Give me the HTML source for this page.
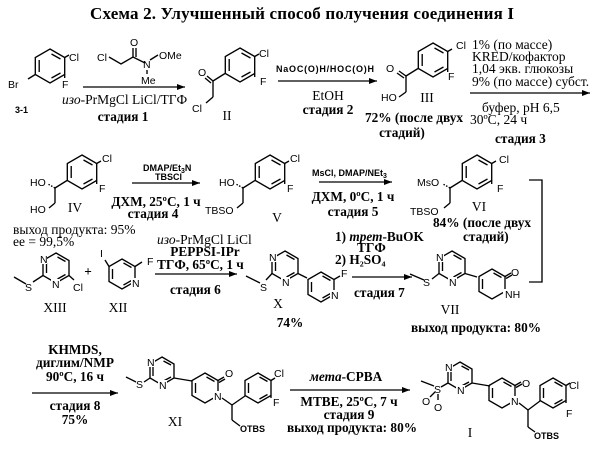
<!DOCTYPE html>
<html><head><meta charset="utf-8"><style>
html,body{margin:0;padding:0;background:#fff;}
svg{display:block;}
.a{font-family:"Liberation Sans",sans-serif;font-size:10.5px;fill:#000;}
.r{font-family:"Liberation Serif","Noto Serif CJK SC",serif;font-size:13.5px;fill:#000;}
.b{font-family:"Liberation Serif","Noto Serif CJK SC",serif;font-size:13.3px;font-weight:bold;fill:#000;}
.sb{font-family:"Liberation Sans",sans-serif;font-size:9px;font-weight:bold;fill:#000;}
line,polyline,polygon{stroke:#000;stroke-width:1.35;fill:none;}
</style></head><body>
<svg width="604" height="470" viewBox="0 0 604 470" xmlns="http://www.w3.org/2000/svg">
<defs><marker id="ar" markerWidth="8" markerHeight="6" refX="8" refY="3" orient="auto" markerUnits="userSpaceOnUse"><path d="M0,0 L8,3 L0,6 z" fill="#000"/></marker></defs>

<text class="b" x="302" y="19" text-anchor="middle" style="font-size:17px" textLength="424">Схема 2. Улучшенный способ получения соединения I</text>

<!-- 3-1 -->
<g transform="translate(50,66)">
<polygon points="0,-17 14.7,-8.5 14.7,8.5 0,17 -14.7,8.5 -14.7,-8.5"/>
<line x1="1.5" y1="-12" x2="10.5" y2="-7"/><line x1="10.5" y1="7" x2="1.5" y2="12"/><line x1="-10.8" y1="-6" x2="-10.8" y2="6"/>
<line x1="14.7" y1="-8.5" x2="19" y2="-11"/><line x1="14.7" y1="8.5" x2="14.7" y2="12"/><line x1="-14.7" y1="8.5" x2="-22" y2="13"/>
<text class="a" x="19" y="-5">Cl</text><text class="a" x="12" y="22">F</text><text class="a" x="-42" y="22">Br</text>
</g>
<text class="sb" x="15" y="113">3-1</text>
<!-- reagent -->
<text class="a" x="97" y="61">Cl</text>
<polyline points="109,57 121,64 133,57 145,63"/>
<line x1="133" y1="57" x2="133" y2="48"/><line x1="136" y1="57" x2="136" y2="48"/>
<text class="a" x="130" y="46">O</text><text class="a" x="143" y="68">N</text>
<line x1="150" y1="60" x2="158" y2="55"/><text class="a" x="159" y="59">OMe</text>
<line x1="147" y1="70" x2="147" y2="74"/><text class="a" x="141" y="84">Me</text>
<line x1="83" y1="87" x2="185" y2="87" marker-end="url(#ar)"/>
<text class="r" x="62" y="104"><tspan font-style="italic">изо</tspan>-PrMgCl LiCl/ТГФ</text>
<text class="b" x="123" y="121" text-anchor="middle">стадия 1</text>

<!-- II -->
<g transform="translate(240,65)">
<polygon points="0,-17 14.7,-8.5 14.7,8.5 0,17 -14.7,8.5 -14.7,-8.5"/>
<line x1="1.5" y1="-12" x2="10.5" y2="-7"/><line x1="10.5" y1="7" x2="1.5" y2="12"/><line x1="-10.8" y1="-6" x2="-10.8" y2="6"/>
<line x1="14.7" y1="-8.5" x2="19" y2="-11"/><line x1="14.7" y1="8.5" x2="14.7" y2="12"/>
<text class="a" x="19" y="-8">Cl</text><text class="a" x="20" y="20">F</text>
</g>
<line x1="225" y1="73.5" x2="213" y2="81"/><line x1="213" y1="81" x2="207" y2="76"/><line x1="211" y1="83" x2="205" y2="78"/>
<text class="a" x="198" y="76">O</text>
<line x1="213" y1="81" x2="213" y2="97"/><line x1="213" y1="97" x2="206" y2="103"/>
<text class="a" x="192" y="112">Cl</text>
<text class="r" x="227" y="120" text-anchor="middle">II</text>
<!-- stage 2 -->
<text class="sb" x="276" y="72" textLength="98">NaOC(O)H/HOC(O)H</text>
<line x1="278" y1="81" x2="377" y2="81" marker-end="url(#ar)"/>
<text class="r" x="328" y="100" text-anchor="middle">EtOH</text>
<text class="b" x="328" y="114" text-anchor="middle">стадия 2</text>

<!-- III -->
<g transform="translate(433,60)">
<polygon points="0,-17 14.7,-8.5 14.7,8.5 0,17 -14.7,8.5 -14.7,-8.5"/>
<line x1="1.5" y1="-12" x2="10.5" y2="-7"/><line x1="10.5" y1="7" x2="1.5" y2="12"/><line x1="-10.8" y1="-6" x2="-10.8" y2="6"/>
<line x1="14.7" y1="-8.5" x2="19" y2="-11"/><line x1="14.7" y1="8.5" x2="14.7" y2="12"/>
<text class="a" x="23" y="-11">Cl</text><text class="a" x="15" y="20">F</text>
</g>
<line x1="418" y1="68.5" x2="406" y2="76"/><line x1="406" y1="76" x2="399" y2="71"/><line x1="404" y1="78" x2="397" y2="73"/>
<text class="a" x="386" y="72">O</text>
<line x1="406" y1="76" x2="406" y2="92"/><line x1="406" y1="92" x2="399" y2="97"/>
<text class="a" x="381" y="101">HO</text>
<text class="r" x="427" y="102" text-anchor="middle">III</text>
<text class="b" x="365" y="122">72% (после двух</text>
<text class="b" x="402" y="137" text-anchor="middle">стадий)</text>
<!-- stage 3 -->
<text class="r" x="472" y="49">1% (по массе)</text>
<text class="r" x="472" y="61">KRED/кофактор</text>
<text class="r" x="472" y="73">1,04 экв. глюкозы</text>
<text class="r" x="472" y="86">9% (по массе) субст.</text>
<line x1="470" y1="93" x2="590" y2="93" marker-end="url(#ar)"/>
<text class="r" x="482" y="112">буфер, pH 6,5</text>
<text class="r" x="470" y="124">30ºC, 24 ч</text>
<text class="b" x="495" y="143">стадия 3</text>

<!-- IV -->
<g transform="translate(82,172)">
<polygon points="0,-17 14.7,-8.5 14.7,8.5 0,17 -14.7,8.5 -14.7,-8.5"/>
<line x1="1.5" y1="-12" x2="10.5" y2="-7"/><line x1="10.5" y1="7" x2="1.5" y2="12"/><line x1="-10.8" y1="-6" x2="-10.8" y2="6"/>
<line x1="14.7" y1="-8.5" x2="19" y2="-11"/><line x1="14.7" y1="8.5" x2="14.7" y2="12"/>
<text class="a" x="20" y="-10">Cl</text><text class="a" x="17" y="20">F</text>
</g>
<line x1="67" y1="180.5" x2="55" y2="188"/><line x1="55" y1="188" x2="48" y2="184" stroke-dasharray="1.5,1.5"/>
<line x1="55" y1="188" x2="55" y2="203"/><line x1="55" y1="203" x2="49" y2="208"/>
<text class="a" x="30" y="186">HO</text><text class="a" x="30" y="213">HO</text>
<text class="r" x="75" y="212" text-anchor="middle">IV</text>
<text class="r" x="13" y="234">выход продукта: 95%</text>
<text class="r" x="13" y="246">ee = 99,5%</text>
<!-- stage 4 -->
<text class="sb" x="143" y="171">DMAP/Et<tspan font-size="7" dy="2">3</tspan><tspan dy="-2">N</tspan></text>
<text class="sb" x="155" y="180">TBSCl</text>
<line x1="132" y1="183" x2="200" y2="183" marker-end="url(#ar)"/>
<text class="b" x="156" y="206" text-anchor="middle">ДХМ, 25ºC, 1 ч</text>
<text class="b" x="153" y="218" text-anchor="middle">стадия 4</text>

<!-- V -->
<g transform="translate(270,172)">
<polygon points="0,-17 14.7,-8.5 14.7,8.5 0,17 -14.7,8.5 -14.7,-8.5"/>
<line x1="1.5" y1="-12" x2="10.5" y2="-7"/><line x1="10.5" y1="7" x2="1.5" y2="12"/><line x1="-10.8" y1="-6" x2="-10.8" y2="6"/>
<line x1="14.7" y1="-8.5" x2="19" y2="-11"/><line x1="14.7" y1="8.5" x2="14.7" y2="12"/>
<text class="a" x="20" y="-10">Cl</text><text class="a" x="17" y="20">F</text>
</g>
<line x1="255" y1="180.5" x2="243" y2="188"/><line x1="243" y1="188" x2="236" y2="184" stroke-dasharray="1.5,1.5"/>
<line x1="243" y1="188" x2="243" y2="203"/><line x1="243" y1="203" x2="237" y2="208"/>
<text class="a" x="219" y="186">HO</text><text class="a" x="205" y="214">TBSO</text>
<text class="r" x="277" y="222" text-anchor="middle">V</text>
<!-- stage 5 -->
<text class="sb" x="312" y="176">MsCl, DMAP/NEt<tspan font-size="7" dy="2">3</tspan></text>
<line x1="319" y1="182" x2="392" y2="182" marker-end="url(#ar)"/>
<text class="b" x="353" y="201" text-anchor="middle">ДХМ, 0ºC, 1 ч</text>
<text class="b" x="353" y="216" text-anchor="middle">стадия 5</text>

<!-- VI -->
<g transform="translate(477,172)">
<polygon points="0,-17 14.7,-8.5 14.7,8.5 0,17 -14.7,8.5 -14.7,-8.5"/>
<line x1="1.5" y1="-12" x2="10.5" y2="-7"/><line x1="10.5" y1="7" x2="1.5" y2="12"/><line x1="-10.8" y1="-6" x2="-10.8" y2="6"/>
<line x1="14.7" y1="-8.5" x2="19" y2="-11"/><line x1="14.7" y1="8.5" x2="14.7" y2="12"/>
<text class="a" x="22" y="-9">Cl</text><text class="a" x="20" y="20">F</text>
</g>
<line x1="462" y1="180.5" x2="450" y2="188"/><line x1="450" y1="188" x2="443" y2="184" stroke-dasharray="1.5,1.5"/>
<line x1="450" y1="188" x2="450" y2="203"/><line x1="450" y1="203" x2="444" y2="208"/>
<text class="a" x="417" y="186">MsO</text><text class="a" x="410" y="215">TBSO</text>
<text class="r" x="479" y="211" text-anchor="middle">VI</text>
<text class="b" x="433" y="227">84% (после двух</text>
<text class="b" x="463" y="241">стадий)</text>
<polyline points="529,180 542,180 542,282 529,282"/>

<!-- XIII -->
<g transform="translate(56,268)">
<polygon points="0,-15 13,-7.5 13,7.5 0,15 -13,7.5 -13,-7.5"/>
<line x1="1.5" y1="-11" x2="9.5" y2="-6.5"/><line x1="9.5" y1="6.5" x2="1.5" y2="11"/><line x1="-9.5" y1="-5" x2="-9.5" y2="5"/>
</g>
<rect x="39" y="254" width="8" height="10" fill="#fff"/><text class="a" x="40" y="263">N</text>
<rect x="51" y="279" width="9" height="10" fill="#fff"/><text class="a" x="52" y="288">N</text>
<line x1="43" y1="275.5" x2="33" y2="282"/><text class="a" x="25" y="291">S</text>
<line x1="26" y1="284" x2="14" y2="277"/>
<line x1="69" y1="275.5" x2="74" y2="280"/><text class="a" x="73" y="291">Cl</text>
<text class="r" x="55" y="312" text-anchor="middle">XIII</text>
<text class="b" x="88" y="276" text-anchor="middle">+</text>
<!-- XII -->
<g transform="translate(122,274)">
<polygon points="0,-15 13,-7.5 13,7.5 0,15 -13,7.5 -13,-7.5"/>
<line x1="1.5" y1="-11" x2="9.5" y2="-6.5"/><line x1="9.5" y1="6.5" x2="1.5" y2="11"/><line x1="-9.5" y1="-5" x2="-9.5" y2="5"/>
<line x1="-13" y1="-7.5" x2="-17" y2="-14"/><line x1="13" y1="-7.5" x2="20" y2="-12"/>
</g>
<text class="a" x="100" y="257">I</text><text class="a" x="147" y="265">F</text>
<rect x="131" y="278" width="9" height="10" fill="#fff"/><text class="a" x="132" y="287">N</text>
<text class="r" x="118" y="312" text-anchor="middle">XII</text>
<!-- stage 6 -->
<text class="r" x="157" y="244"><tspan font-style="italic">изо</tspan>-PrMgCl LiCl</text>
<text class="b" x="205" y="256" text-anchor="middle">PEPPSI-IPr</text>
<text class="b" x="157" y="269">ТГФ, 65ºC, 1 ч</text>
<line x1="155" y1="274" x2="237" y2="274" marker-end="url(#ar)"/>
<text class="b" x="170" y="294">стадия 6</text>

<!-- X -->
<g transform="translate(285,266)">
<polygon points="0,-15 13,-7.5 13,7.5 0,15 -13,7.5 -13,-7.5"/>
<line x1="1.5" y1="-11" x2="9.5" y2="-6.5"/><line x1="9.5" y1="6.5" x2="1.5" y2="11"/><line x1="-9.5" y1="-5" x2="-9.5" y2="5"/>
</g>
<rect x="268" y="252" width="9" height="10" fill="#fff"/><text class="a" x="269" y="261">N</text>
<rect x="281" y="277" width="9" height="10" fill="#fff"/><text class="a" x="282" y="286">N</text>
<line x1="272" y1="273.5" x2="266" y2="280"/><text class="a" x="260" y="291">S</text><line x1="260" y1="283" x2="246" y2="276"/>
<line x1="298" y1="273.5" x2="307" y2="278"/>
<g transform="translate(321,287)">
<polygon points="0,-15 13,-7.5 13,7.5 0,15 -13,7.5 -13,-7.5"/>
<line x1="1.5" y1="-11" x2="9.5" y2="-6.5"/><line x1="9.5" y1="6.5" x2="1.5" y2="11"/><line x1="-9.5" y1="-5" x2="-9.5" y2="5"/>
<line x1="13" y1="-7.5" x2="19" y2="-11"/>
</g>
<text class="a" x="341" y="277">F</text>
<rect x="330" y="290" width="9" height="10" fill="#fff"/><text class="a" x="331" y="299">N</text>
<text class="r" x="278" y="308" text-anchor="middle">X</text>
<text class="b" x="290" y="327" text-anchor="middle">74%</text>
<!-- stage 7 -->
<text class="b" x="335" y="241">1) <tspan font-style="italic">трет</tspan>-BuOK</text>
<text class="b" x="357" y="252">ТГФ</text>
<text class="b" x="335" y="264">2) H₂SO₄</text>
<line x1="352" y1="277" x2="412" y2="277" marker-end="url(#ar)"/>
<text class="b" x="354" y="297">стадия 7</text>

<!-- VII -->
<g transform="translate(452,266)">
<polygon points="0,-15 13,-7.5 13,7.5 0,15 -13,7.5 -13,-7.5"/>
<line x1="1.5" y1="-11" x2="9.5" y2="-6.5"/><line x1="9.5" y1="6.5" x2="1.5" y2="11"/><line x1="-9.5" y1="-5" x2="-9.5" y2="5"/>
</g>
<rect x="435" y="252" width="9" height="10" fill="#fff"/><text class="a" x="436" y="261">N</text>
<rect x="448" y="277" width="9" height="10" fill="#fff"/><text class="a" x="449" y="286">N</text>
<line x1="439" y1="273.5" x2="432" y2="279"/><text class="a" x="423" y="286">S</text><line x1="424" y1="280" x2="410" y2="274"/>
<line x1="465" y1="273.5" x2="477" y2="277"/>
<g transform="translate(492,284)">
<polygon points="0,-15 13,-7.5 13,7.5 0,15 -13,7.5 -13,-7.5"/>
<line x1="-9.5" y1="-5" x2="-9.5" y2="5"/><line x1="1.5" y1="-11" x2="9.5" y2="-6.5"/>
<line x1="13" y1="-7.5" x2="19" y2="-11"/><line x1="14" y1="-5.5" x2="20" y2="-9"/>
</g>
<text class="a" x="511" y="276">O</text>
<rect x="503" y="289" width="16" height="10" fill="#fff"/><text class="a" x="505" y="298">NH</text>
<text class="r" x="450" y="314" text-anchor="middle">VII</text>
<text class="b" x="476" y="332" text-anchor="middle">выход продукта: 80%</text>

<!-- stage 8 -->
<text class="b" x="75" y="354" text-anchor="middle">KHMDS,</text>
<text class="b" x="75" y="367" text-anchor="middle">диглим/NMP</text>
<text class="b" x="75" y="381" text-anchor="middle">90ºC, 16 ч</text>
<line x1="32" y1="393" x2="118" y2="393" marker-end="url(#ar)"/>
<text class="b" x="75" y="410" text-anchor="middle">стадия 8</text>
<text class="b" x="75" y="424" text-anchor="middle">75%</text>

<!-- XI -->
<g transform="translate(162,371)">
<polygon points="0,-14 12,-7 12,7 0,14 -12,7 -12,-7"/>
<line x1="1.5" y1="-10" x2="9" y2="-6"/><line x1="9" y1="6" x2="1.5" y2="10"/><line x1="-9" y1="-5" x2="-9" y2="5"/>
</g>
<rect x="146" y="357" width="9" height="10" fill="#fff"/><text class="a" x="147" y="366">N</text>
<rect x="158" y="380" width="9" height="10" fill="#fff"/><text class="a" x="159" y="389">N</text>
<line x1="150" y1="378" x2="144" y2="382"/><text class="a" x="136" y="388">S</text><line x1="136" y1="382" x2="126" y2="377"/>
<line x1="174" y1="378" x2="192" y2="381"/>
<g transform="translate(205,388)">
<polygon points="0,-15 13,-7.5 13,7.5 0,15 -13,7.5 -13,-7.5"/>
<line x1="-9.5" y1="-5" x2="-9.5" y2="5"/><line x1="1.5" y1="-11" x2="9.5" y2="-6.5"/>
<line x1="13" y1="-7.5" x2="19" y2="-11"/><line x1="14" y1="-5.5" x2="20" y2="-9"/>
</g>
<text class="a" x="225" y="377">O</text>
<rect x="213" y="391" width="9" height="10" fill="#fff"/><text class="a" x="214" y="400">N</text>
<line x1="222" y1="398" x2="232" y2="405"/><line x1="232" y1="405" x2="232" y2="420" stroke-width="2.2"/><line x1="232" y1="420" x2="240" y2="426"/>
<line x1="232" y1="405" x2="245" y2="396"/>
<g transform="translate(258,388)">
<polygon points="0,-15 13,-7.5 13,7.5 0,15 -13,7.5 -13,-7.5"/>
<line x1="1.5" y1="-11" x2="9.5" y2="-6.5"/><line x1="9.5" y1="6.5" x2="1.5" y2="11"/><line x1="-9.5" y1="-5" x2="-9.5" y2="5"/>
<line x1="13" y1="-7.5" x2="17" y2="-10"/><line x1="13" y1="7.5" x2="13" y2="10"/>
</g>
<text class="a" x="274" y="377">Cl</text><text class="a" x="273" y="406">F</text>
<text class="sb" x="240" y="432">OTBS</text>
<text class="r" x="175" y="426" text-anchor="middle">XI</text>

<!-- stage 9 -->
<text class="b" x="346" y="381" text-anchor="middle"><tspan font-style="italic">мета</tspan>-CPBA</text>
<line x1="290" y1="390" x2="410" y2="390" marker-end="url(#ar)"/>
<text class="b" x="349" y="406" text-anchor="middle">MTBE, 25ºC, 7 ч</text>
<text class="b" x="349" y="419" text-anchor="middle">стадия 9</text>
<text class="b" x="352" y="432" text-anchor="middle">выход продукта: 80%</text>

<!-- I -->
<g transform="translate(460,376)">
<polygon points="0,-14 12,-7 12,7 0,14 -12,7 -12,-7"/>
<line x1="1.5" y1="-10" x2="9" y2="-6"/><line x1="9" y1="6" x2="1.5" y2="10"/><line x1="-9" y1="-5" x2="-9" y2="5"/>
</g>
<rect x="444" y="362" width="9" height="10" fill="#fff"/><text class="a" x="445" y="371">N</text>
<rect x="456" y="385" width="9" height="10" fill="#fff"/><text class="a" x="457" y="394">N</text>
<line x1="448" y1="383" x2="441" y2="387"/><text class="a" x="434" y="393">S</text><line x1="434" y1="386" x2="421" y2="381"/>
<line x1="435" y1="392" x2="430" y2="397"/><line x1="438" y1="394" x2="438" y2="400"/>
<text class="a" x="422" y="405">O</text><text class="a" x="434" y="411">O</text>
<line x1="472" y1="383" x2="490" y2="386"/>
<g transform="translate(502,393)">
<polygon points="0,-15 13,-7.5 13,7.5 0,15 -13,7.5 -13,-7.5"/>
<line x1="-9.5" y1="-5" x2="-9.5" y2="5"/><line x1="1.5" y1="-11" x2="9.5" y2="-6.5"/>
<line x1="13" y1="-7.5" x2="19" y2="-11"/><line x1="14" y1="-5.5" x2="20" y2="-9"/>
</g>
<text class="a" x="522" y="387">O</text>
<rect x="510" y="396" width="9" height="10" fill="#fff"/><text class="a" x="511" y="405">N</text>
<line x1="519" y1="403" x2="528" y2="410"/><line x1="528" y1="410" x2="528" y2="427" stroke-width="2.2"/><line x1="528" y1="427" x2="535" y2="432"/>
<line x1="528" y1="410" x2="540" y2="401"/>
<g transform="translate(553,393)">
<polygon points="0,-15 13,-7.5 13,7.5 0,15 -13,7.5 -13,-7.5"/>
<line x1="1.5" y1="-11" x2="9.5" y2="-6.5"/><line x1="9.5" y1="6.5" x2="1.5" y2="11"/><line x1="-9.5" y1="-5" x2="-9.5" y2="5"/>
<line x1="13" y1="-7.5" x2="17" y2="-10"/><line x1="13" y1="7.5" x2="13" y2="10"/>
</g>
<text class="a" x="569" y="389">Cl</text><text class="a" x="566" y="417">F</text>
<text class="sb" x="534" y="439">OTBS</text>
<text class="r" x="470" y="437" text-anchor="middle">I</text>
</svg>
</body></html>
